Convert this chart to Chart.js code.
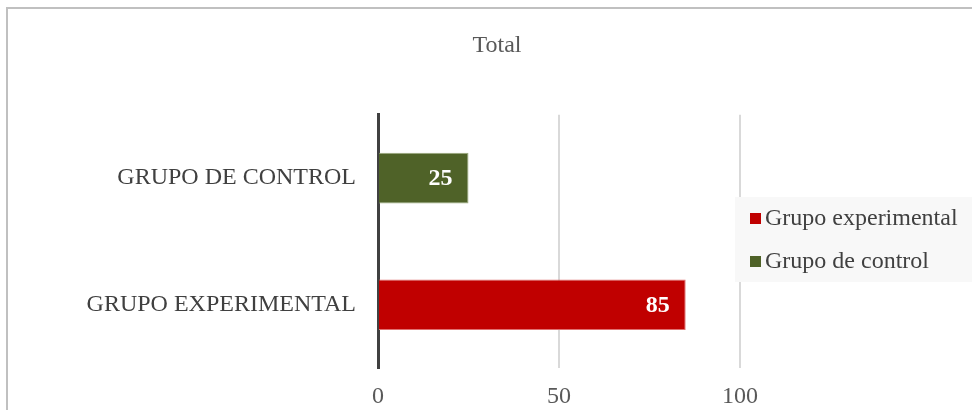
<!DOCTYPE html>
<html>
<head>
<meta charset="utf-8">
<script src="https://cdn.jsdelivr.net/npm/chart.js@4.4.1/dist/chart.umd.min.js"></script>
<style>
    html, body { margin: 0; padding: 0; background: #ffffff; overflow: hidden; }
    #frame {
        position: absolute; left: 6px; top: 7px; width: 1100px; height: 500px;
        border-top: 2px solid #c0c0c0; border-left: 2px solid #c0c0c0;
    }
    #wrap { position: absolute; left: 0; top: 0; width: 972px; height: 410px; overflow: hidden; }
</style>
</head>
<body>
<div id="frame"></div>
<div id="wrap"><canvas id="chart" width="994" height="410"></canvas></div>
<script>
// Chart data
const categories = ['GRUPO DE CONTROL', 'GRUPO EXPERIMENTAL'];
const seriesNames = ['Grupo experimental', 'Grupo de control'];
const experimentalValues = [null, 85];
const controlValues = [25, null];
const xTicks = [0, 50, 100];

const SERIF = "'Liberation Serif', 'Times New Roman', serif";
Chart.defaults.font.family = SERIF;

// Value labels written inside the end of each bar
const barValueLabels = {
    id: 'barValueLabels',
    afterDatasetsDraw(chart) {
        const ctx = chart.ctx;
        ctx.save();
        ctx.font = 'bold 24px ' + SERIF;
        ctx.fillStyle = '#ffffff';
        ctx.textAlign = 'right';
        ctx.textBaseline = 'middle';
        chart.data.datasets.forEach((ds, i) => {
            chart.getDatasetMeta(i).data.forEach((bar, j) => {
                const v = ds.data[j];
                if (v === null || v === undefined) return;
                ctx.fillText(String(v), bar.x - 16, bar.y + 1);
            });
        });
        ctx.restore();
    }
};

// Title spans the whole canvas, not just the part left of the legend
const wideTitle = {
    id: 'wideTitle',
    afterLayout(chart) {
        const t = chart.titleBlock;
        if (!t) return;
        t.left = 0;
        t.right = chart.width;
        t.width = chart.width;
    }
};

// Legend on a light grey panel to the right of the plot
const sideLegend = {
    id: 'sideLegend',
    afterDraw(chart) {
        const ctx = chart.ctx;
        const area = chart.chartArea;
        const panelX = area.right - 5;
        const panelTop = 197;
        const rowGap = 43;
        ctx.save();
        ctx.fillStyle = '#f8f8f8';
        ctx.fillRect(panelX, panelTop, chart.width - panelX, 85);
        ctx.font = '24px ' + SERIF;
        ctx.textBaseline = 'middle';
        ctx.textAlign = 'left';
        chart.data.datasets.forEach((ds, i) => {
            const cy = panelTop + 21 + i * rowGap;
            ctx.fillStyle = ds.backgroundColor;
            ctx.fillRect(area.right + 10, cy - 5, 11, 11);
            ctx.fillStyle = '#404040';
            ctx.fillText(ds.label, area.right + 25, cy + 1);
        });
        ctx.restore();
    }
};

new Chart(document.getElementById('chart'), {
    type: 'bar',
    data: {
        labels: categories,
        datasets: [
            {
                label: seriesNames[0],
                data: experimentalValues,
                backgroundColor: '#c00000',
                borderColor: '#e07070',
                borderWidth: 1
            },
            {
                label: seriesNames[1],
                data: controlValues,
                backgroundColor: '#4f6228',
                borderColor: '#9aab7e',
                borderWidth: 1
            }
        ]
    },
    options: {
        indexAxis: 'y',
        responsive: false,
        animation: false,
        barPercentage: 0.8,
        categoryPercentage: 0.5,
        layout: { padding: { left: 0, right: 254, top: 0, bottom: 0 } },
        plugins: {
            title: {
                display: true,
                text: 'Total',
                color: '#595959',
                font: { size: 24, weight: 'normal', family: SERIF, lineHeight: 1.2 },
                padding: { top: 31, bottom: 55 }
            },
            legend: { display: false },
            tooltip: { enabled: false }
        },
        scales: {
            x: {
                stacked: true,
                min: 0,
                max: 100,
                afterBuildTicks(scale) {
                    scale.ticks = xTicks.map(v => ({ value: v }));
                },
                afterFit(scale) { scale.height = 42; },
                grid: { color: '#d9d9d9', lineWidth: 2, drawTicks: false },
                border: { display: false },
                ticks: {
                    color: '#595959',
                    padding: 14,
                    font: { size: 24, family: SERIF, lineHeight: 1.2 }
                }
            },
            y: {
                stacked: true,
                afterFit(scale) { scale.width = 378; },
                grid: { display: false, drawTicks: false },
                border: { display: true, color: '#404040', width: 3 },
                ticks: {
                    color: '#404040',
                    padding: 22,
                    font: { size: 24, family: SERIF }
                }
            }
        }
    },
    plugins: [barValueLabels, wideTitle, sideLegend]
});
</script>
</body>
</html>
